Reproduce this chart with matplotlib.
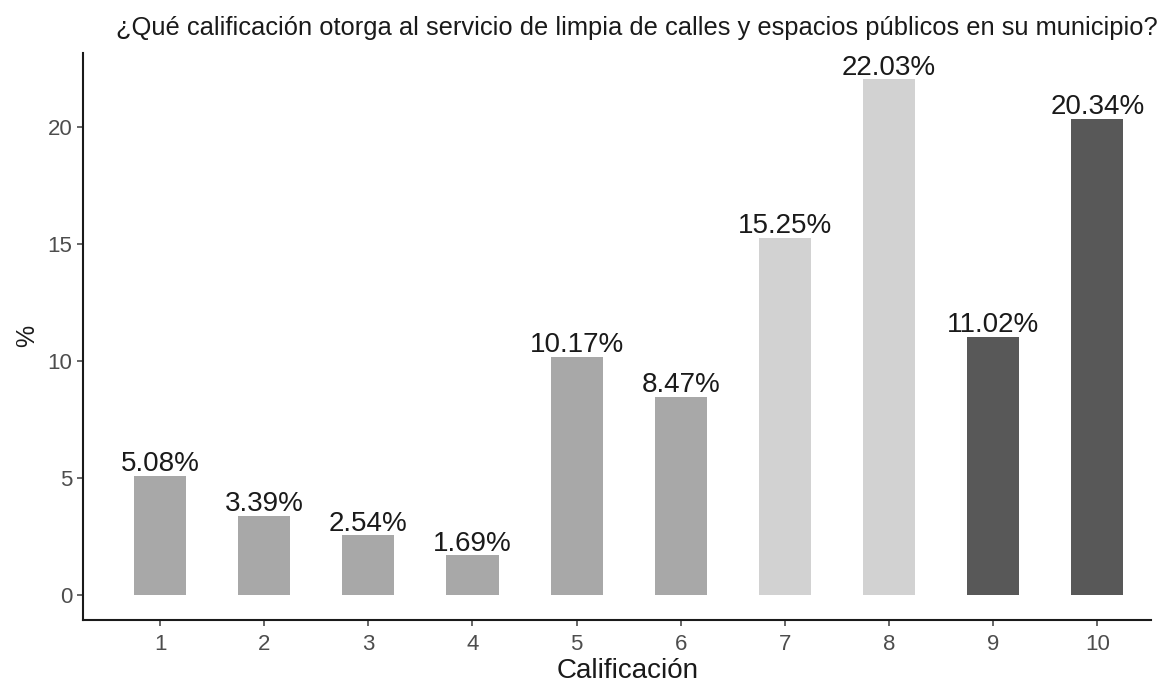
import matplotlib.pyplot as plt
import numpy as np

plt.rcParams['font.family'] = ['Liberation Sans', 'DejaVu Sans']

calificacion = ['1', '2', '3', '4', '5', '6', '7', '8', '9', '10']
porcentaje = [5.08, 3.39, 2.54, 1.69, 10.17, 8.47, 15.25, 22.03, 11.02, 20.34]
colores = ['#a8a8a8'] * 6 + ['#d2d2d2'] * 2 + ['#585858'] * 2

fig = plt.figure(figsize=(11.69, 6.85), dpi=100)
ax = fig.add_axes([0.071, 0.095, 0.914, 0.828])

x = np.arange(1, len(calificacion) + 1)
ax.bar(x, porcentaje, width=0.5, color=colores)
for xi, v in zip(x, porcentaje):
    ax.text(xi, v + 0.2, f'{v:.2f}%', ha='center', va='baseline', fontsize=20, color='#1a1a1a')

ax.set_xlim(0.26, 10.52)
ax.set_ylim(-1.07, 23.16)
ax.set_xticks(x)
ax.set_xticklabels(calificacion)
ax.set_yticks([0, 5, 10, 15, 20])
ax.tick_params(colors='#4d4d4d', labelsize=16, length=4, width=1.2)
ax.tick_params(axis='x', pad=6)
for s in ['top', 'right']:
    ax.spines[s].set_visible(False)
for s in ['left', 'bottom']:
    ax.spines[s].set_linewidth(1.5)
    ax.spines[s].set_color('#1a1a1a')

ax.set_xlabel('Calificación', fontsize=20, color='#1a1a1a', labelpad=2)
ax.xaxis.label.set_x(0.51)
ax.set_ylabel('%', fontsize=18, color='#1a1a1a', labelpad=6)
ax.set_title('¿Qué calificación otorga al servicio de limpia de calles y espacios públicos en su municipio?',
             fontsize=18.4, color='#1a1a1a', pad=13, x=0.518)

fig.savefig('out.png', dpi=100)
